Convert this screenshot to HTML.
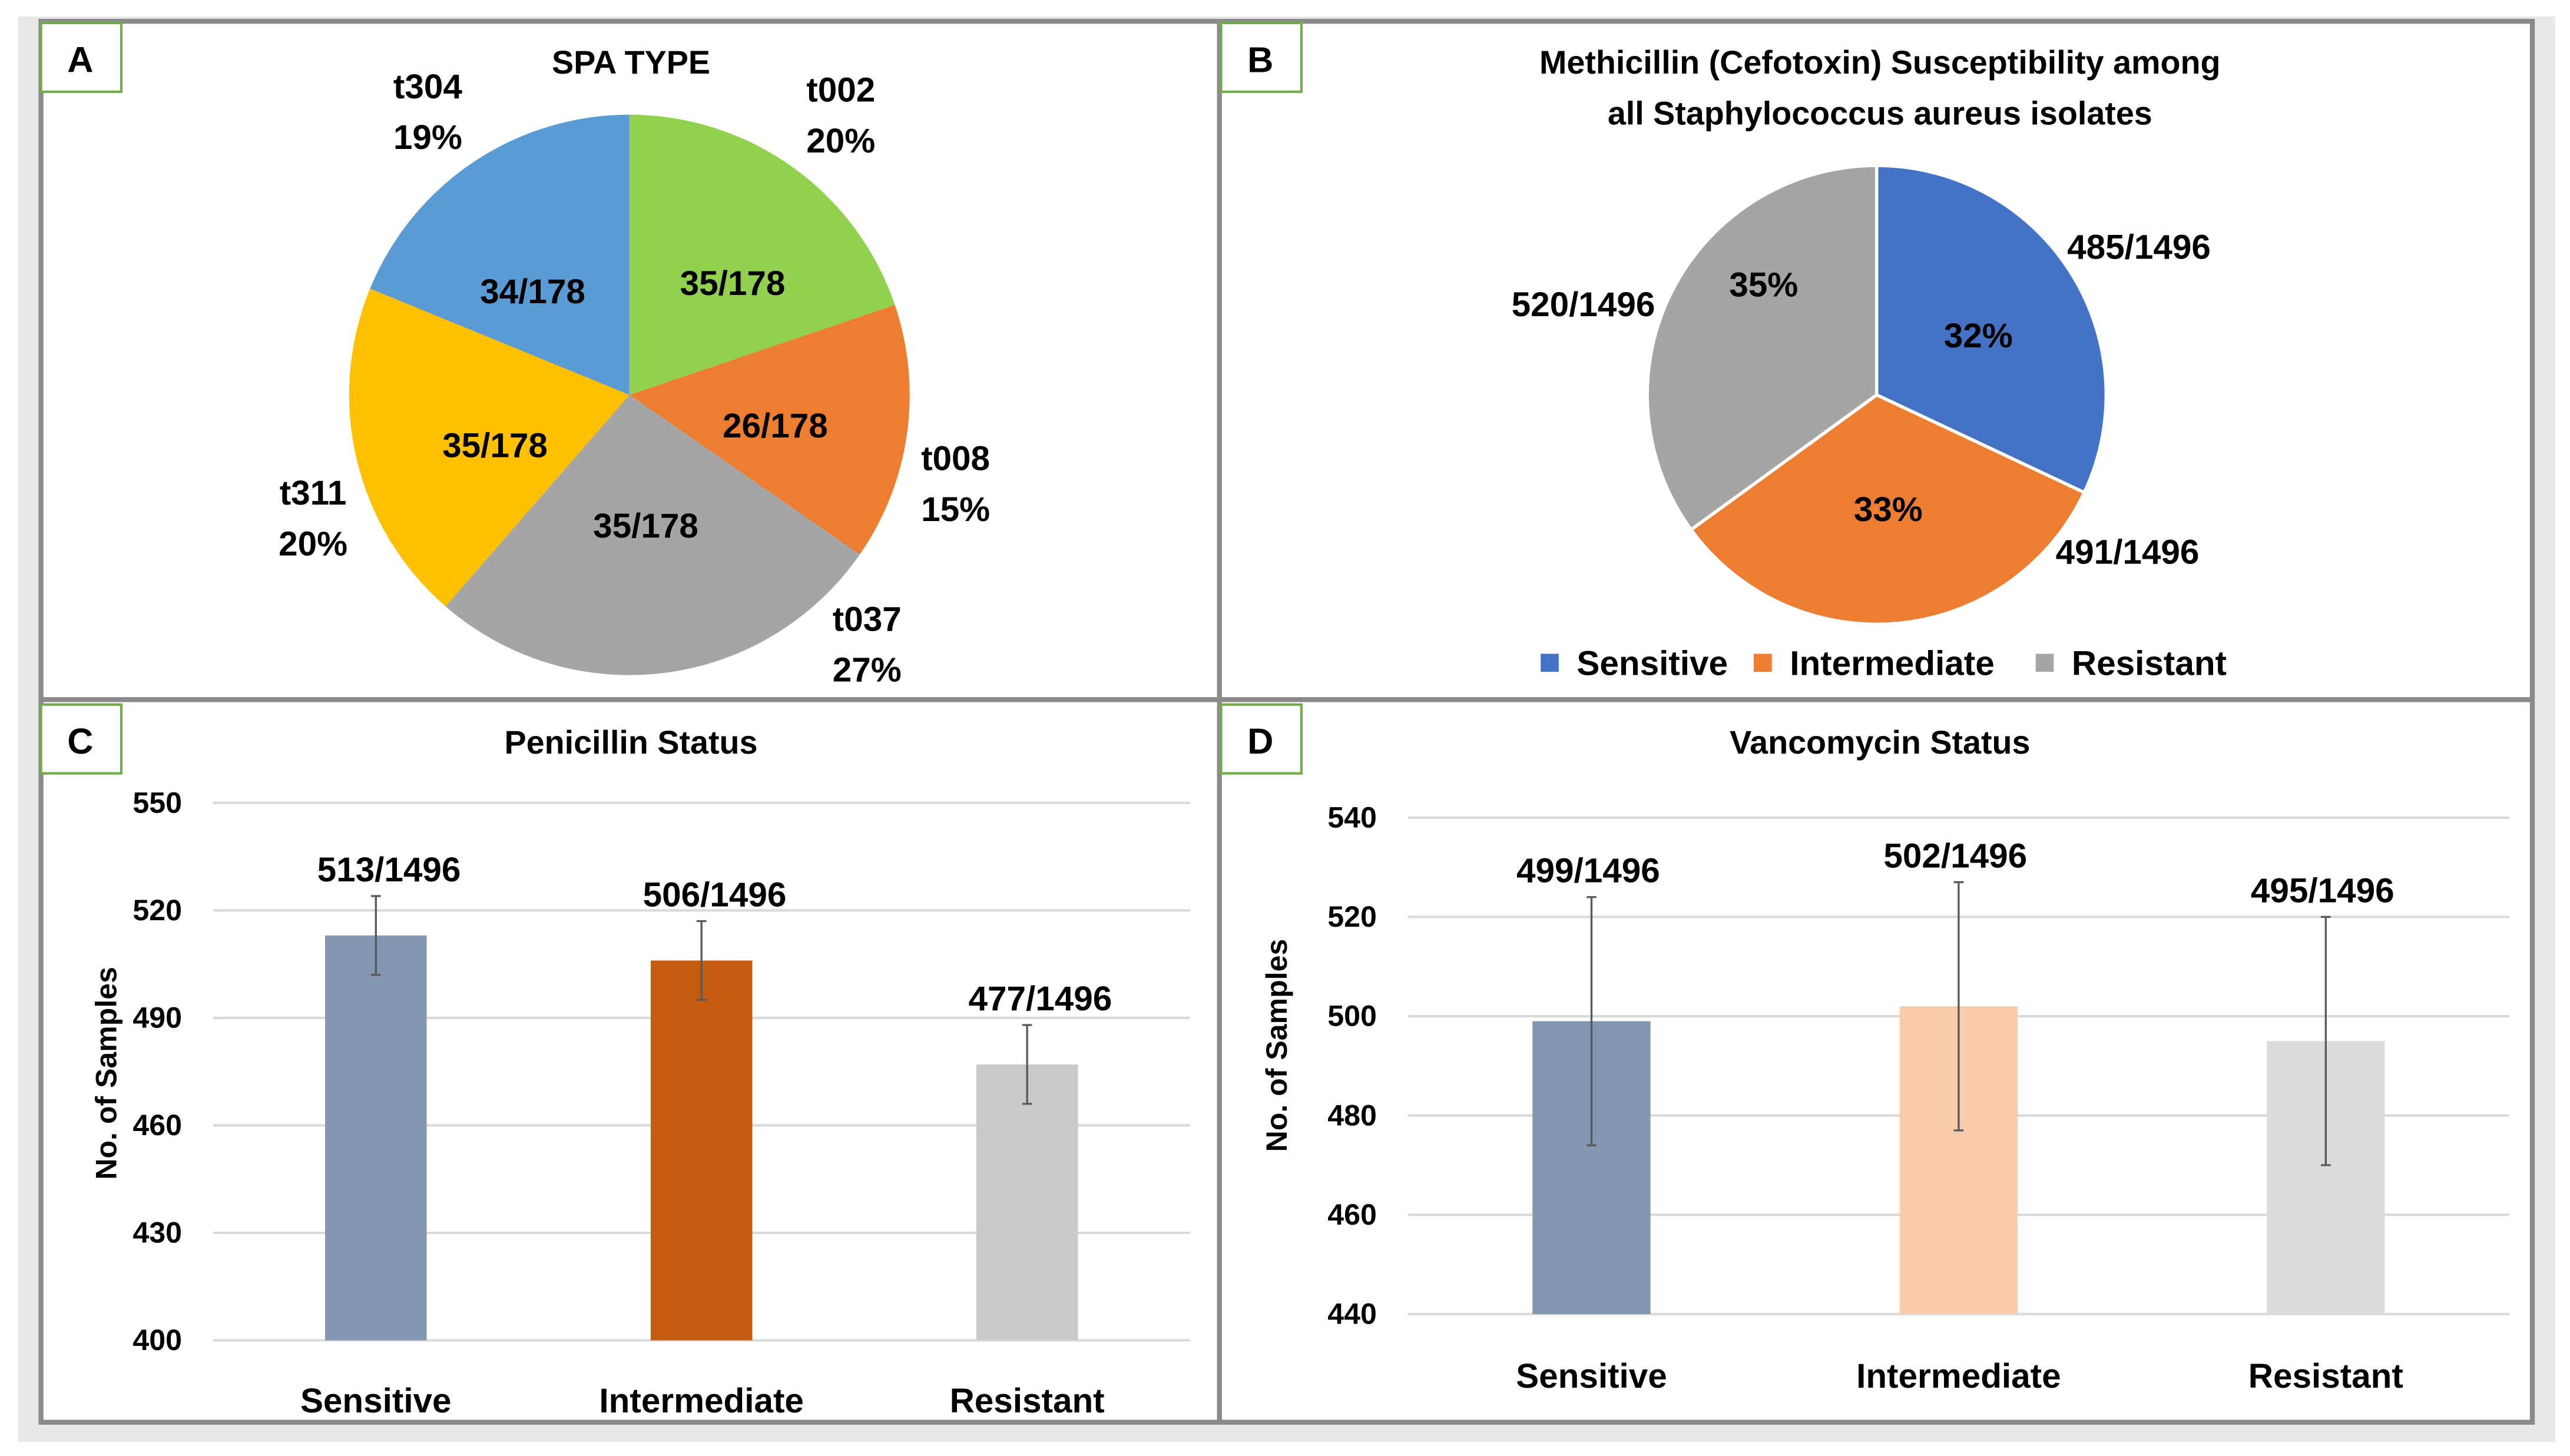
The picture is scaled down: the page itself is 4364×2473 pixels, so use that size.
<!DOCTYPE html>
<html><head><meta charset="utf-8"><style>
html,body{margin:0;padding:0;background:#fff;}
svg{display:block;}
text{font-family:"Liberation Sans Narrow","Liberation Sans",sans-serif;font-weight:bold;fill:#000;}
</style></head><body>
<svg id="fig" width="4364" height="2473" viewBox="0 0 1568 888.6" preserveAspectRatio="none" xmlns="http://www.w3.org/2000/svg">
<rect x="0" y="0" width="1568" height="888.6" fill="#fff"/>
<rect x="11" y="10" width="1548" height="870" fill="#e8e8e8"/>
<rect x="25" y="13" width="1520" height="855" fill="#fff" stroke="#8a8a8a" stroke-width="3"/>
<line x1="744" y1="13" x2="744" y2="868" stroke="#8a8a8a" stroke-width="3"/>
<line x1="25" y1="427" x2="1545" y2="427" stroke="#8a8a8a" stroke-width="3"/>
<g id="panelLabels"></g>
<g id="pieA"></g>
<g id="pieB"></g>
<g id="barC"></g>
<g id="barD"></g>
</svg>
<script>
// ---- Panel A data ----
const spaTypes = ["t002","t008","t037","t311","t304"];
const spaPercents = [20,15,27,20,19];
const spaCounts = ["35/178","26/178","35/178","35/178","34/178"];
// ---- Panel B data ----
const methCategories = ["Sensitive","Intermediate","Resistant"];
const methPercents = [32,33,35];
const methCounts = ["485/1496","491/1496","520/1496"];
// ---- Panel C data ----
const penCategories = ["Sensitive","Intermediate","Resistant"];
const penValues = [513,506,477];
const penErrors = [11,11,11];
const penLabels = ["513/1496","506/1496","477/1496"];
const penTicks = [400,430,460,490,520,550];
// ---- Panel D data ----
const vanCategories = ["Sensitive","Intermediate","Resistant"];
const vanValues = [499,502,495];
const vanErrors = [25,25,25];
const vanLabels = ["499/1496","502/1496","495/1496"];
const vanTicks = [440,460,480,500,520,540];

// label layout (positions, not data)
const aOuterPos=[[513,62],[583,287],[529,385],[191,308],[261,60]];
const aInnerPos=[[447,180],[473,267],[394,328],[302,279],[325,185]];
const bOuterPos=[[1305,158],[1298,344],[966,193]];
const bInnerPos=[[1207,212],[1152,318],[1076,181]];

const NS="http://www.w3.org/2000/svg";
function mk(tag,attrs,parent,txt){const e=document.createElementNS(NS,tag);for(const k in attrs)e.setAttribute(k,attrs[k]);if(txt!==undefined)e.textContent=txt;parent.appendChild(e);return e;}

const pl=document.getElementById('panelLabels');
[["A",25,14],["B",745,14],["C",25,430],["D",745,430]].forEach(p=>{
  const r=mk('rect',{x:p[1],y:p[2],width:49,height:42,fill:'#fff',stroke:'#70ad47','stroke-width':1.5},pl);
  
  
  const t=mk('text',{x:p[1]+24,y:p[2]+30,'text-anchor':'middle','font-size':22},pl,p[0]);
  
  
});

function pie(g,cx,cy,r,vals,colors,stroke){
  const tot=vals.reduce((a,b)=>a+b,0);let a0=0;
  vals.forEach((v,i)=>{
    const a1=a0+v/tot*2*Math.PI;
    const x0=cx+r*Math.sin(a0),y0=cy-r*Math.cos(a0),x1=cx+r*Math.sin(a1),y1=cy-r*Math.cos(a1);
    const large=(a1-a0)>Math.PI?1:0;
    const p=mk('path',{d:`M${cx},${cy} L${x0},${y0} A${r},${r} 0 ${large} 1 ${x1},${y1} Z`,fill:colors[i],stroke:stroke||'none','stroke-width':stroke?2:0},g);
    
    
    a0=a1;
  });
}
function txt(g,x,y,s,size,name,anchor){const t=mk('text',{x:x,y:y,'text-anchor':anchor||'middle','font-size':size},g,s);
  
  
  return t;}

// Panel A
(function(){
  const g=document.getElementById('pieA');const cx=384,cy=241,r=171;
  txt(g,385,45,"SPA TYPE",20,'chart-a-title');
  pie(g,cx,cy,r,spaPercents,['#92d050','#ed7d31','#a5a5a5','#ffc000','#5b9bd5']);
  spaTypes.forEach((s,i)=>{
    txt(g,aInnerPos[i][0],aInnerPos[i][1],spaCounts[i],21,'slice-count-label');
    txt(g,aOuterPos[i][0],aOuterPos[i][1],s,21,'slice-type-label');
    txt(g,aOuterPos[i][0],aOuterPos[i][1]+31,spaPercents[i]+'%',21,'slice-percent-label');
  });
})();

// Panel B
(function(){
  const g=document.getElementById('pieB');const cx=1145,cy=241,r=140;
  txt(g,1147,45,"Methicillin (Cefotoxin) Susceptibility among",20,'chart-b-title-line1');
  txt(g,1147,76,"all Staphylococcus aureus isolates",20,'chart-b-title-line2');
  const cols=['#4472c4','#ed7d31','#a5a5a5'];
  pie(g,cx,cy,r,methPercents,cols,'#fff');
  methCategories.forEach((c,i)=>{
    txt(g,bInnerPos[i][0],bInnerPos[i][1],methPercents[i]+'%',21,'slice-percent-label');
    txt(g,bOuterPos[i][0],bOuterPos[i][1],methCounts[i],21,'slice-count-label');
  });
  let lx=[940,1070,1242];
  methCategories.forEach((c,i)=>{
    const s=mk('rect',{x:lx[i],y:399,width:11,height:11,fill:cols[i]},g);
    
    
    txt(g,lx[i]+22,412,c,21,'legend-entry','start');
  });
})();

function bars(g,o){
  const y=v=>o.y1-(v-o.min)/(o.max-o.min)*(o.y1-o.y0);
  o.ticks.forEach(t=>{
    const l=mk('line',{x1:o.gx0,x2:o.gx1,y1:y(t),y2:y(t),stroke:'#d9d9d9','stroke-width':1.5},g);
    
    
    txt(g,o.tx,y(t)+6,String(t),18,'y-tick-label','end');
  });
  const step=(o.gx1-o.gx0)/o.cats.length;
  o.cats.forEach((c,i)=>{
    const cx=o.gx0+step*(i+0.5);
    const b=mk('rect',{x:cx-o.bw/2,y:y(o.vals[i]),width:o.bw,height:y(o.min)-y(o.vals[i]),fill:o.cols[i]},g);
    
    
    const hi=y(o.vals[i]+o.errs[i]),lo=y(o.vals[i]-o.errs[i]);
    const e=mk('path',{d:`M${cx},${hi}V${lo}M${cx-3},${hi}H${cx+3}M${cx-3},${lo}H${cx+3}`,stroke:'#595959','stroke-width':1.2,fill:'none'},g);
    
    
    txt(g,cx+o.lo,hi-9,o.labels[i],21,'bar-value-label');
    txt(g,cx,o.xly,c,21,'x-category-label');
  });
  const t=txt(g,0,0,"No. of Samples",18,'y-axis-title');
  t.setAttribute('transform',`translate(${o.yax},${o.yay}) rotate(-90)`);
  t.style.fontFamily='"Liberation Sans",sans-serif';
  txt(g,385+o.dx,460,o.title,20,'chart-title');
}
bars(document.getElementById('barC'),{min:400,max:550,y0:490,y1:818,gx0:130,gx1:726,ticks:penTicks,cats:penCategories,vals:penValues,errs:penErrors,labels:penLabels,cols:['#8496b0','#c55a11','#c9c9c9'],bw:62,tx:111,xly:862,yax:71,yay:655,title:"Penicillin Status",dx:0,lo:8});
bars(document.getElementById('barD'),{min:440,max:540,y0:499,y1:802,gx0:859,gx1:1531,ticks:vanTicks,cats:vanCategories,vals:vanValues,errs:vanErrors,labels:vanLabels,cols:['#8497b0','#f8cbad','#dbdbdb'],bw:72,tx:840,xly:847,yax:785,yay:638,title:"Vancomycin Status",dx:762,lo:-2});
</script>
</body></html>
